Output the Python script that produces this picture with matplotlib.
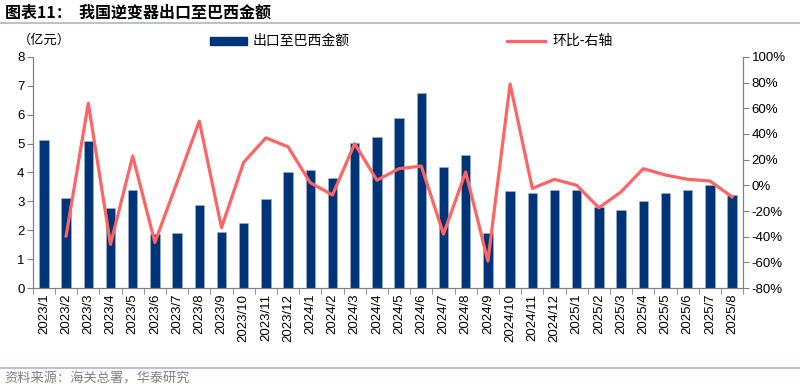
import matplotlib
matplotlib.use("Agg")
import matplotlib.pyplot as plt
import numpy as np
from matplotlib.lines import Line2D

plt.rcParams['font.family'] = ['Liberation Sans', 'Noto Sans CJK SC', 'DejaVu Sans']

months = ["2023/1", "2023/2", "2023/3", "2023/4", "2023/5", "2023/6", "2023/7", "2023/8",
          "2023/9", "2023/10", "2023/11", "2023/12", "2024/1", "2024/2", "2024/3", "2024/4",
          "2024/5", "2024/6", "2024/7", "2024/8", "2024/9", "2024/10", "2024/11", "2024/12",
          "2025/1", "2025/2", "2025/3", "2025/4", "2025/5", "2025/6", "2025/7", "2025/8"]
export_brazil = [5.12, 3.11, 5.09, 2.77, 3.39, 1.87, 1.90, 2.87, 1.94, 2.25, 3.09, 4.02,
                 4.09, 3.80, 5.03, 5.22, 5.89, 6.76, 4.19, 4.61, 1.90, 3.36, 3.28, 3.41,
                 3.39, 2.82, 2.69, 3.03, 3.28, 3.41, 3.55, 3.22]
mom_pct = [np.nan, -39.5, 64, -46, 22.8, -44.5, 2.5, 50, -33, 18, 37, 30,
           2, -7.5, 32.5, 4, 13, 15, -38, 10.4, -59, 79, -2.4, 4.7,
           0, -17.5, -5, 13, 8, 4.7, 3.4, -9]

BAR = "#003478"
LINE = "#FF6464"
SPINE = "#808080"
CJK = ['Noto Sans CJK SC', 'DejaVu Sans']

fig = plt.figure(figsize=(8, 3.92), dpi=100)
ax = fig.add_axes([0.041, 0.2653, 0.888, 0.5893])
x = np.arange(len(months))
ax.bar(x, export_brazil, width=0.42, color=BAR, edgecolor="#9fb3cf", linewidth=0.4, zorder=2)
ax.set_xlim(-0.5, len(months) - 0.5)
ax.set_ylim(0, 8)
ax.set_yticks(range(0, 9))
ax.set_xticks(x)
ax.set_xticklabels(months, rotation=90, fontsize=9.5)
ax.set_xticks(np.arange(-0.5, len(months), 1), minor=True)
ax.tick_params(axis="x", which="major", length=0, pad=4)
ax.tick_params(axis="x", which="minor", length=4, direction="out", color=SPINE)
ax.tick_params(axis="y", labelsize=9.5, length=4, color=SPINE, pad=2)

ax2 = ax.twinx()
ax2.plot(x, mom_pct, color=LINE, lw=2.3, zorder=3)
ax2.set_ylim(-80, 100)
ax2.set_yticks(range(-80, 101, 20))
ax2.set_yticklabels([f"{v}%" for v in range(-80, 101, 20)])
ax2.tick_params(axis="y", labelsize=9.5, length=4, color=SPINE, pad=2)

for a in (ax, ax2):
    a.spines["top"].set_visible(False)
    for s in ("left", "right", "bottom"):
        a.spines[s].set_color(SPINE)
        a.spines[s].set_linewidth(0.8)

# header / footer
fig.text(0.006, 0.968, "图表11：  我国逆变器出口至巴西金额", fontsize=11.5, fontweight="bold",
         family=CJK, va="center", ha="left")
fig.add_artist(Line2D([0.0, 1.0], [0.941, 0.941], color="#aab8c8", lw=1.2))
fig.add_artist(Line2D([0.0, 1.0], [0.062, 0.062], color="#aab8c8", lw=1.2))
fig.text(0.006, 0.032, "资料来源：海关总署，华泰研究", fontsize=9.5, color="#808080",
         family=CJK, va="center", ha="left")
fig.text(0.022, 0.897, "（亿元）", fontsize=9.5, family=CJK, va="center", ha="left")

# legend
fig.add_artist(plt.Rectangle((0.262, 0.884), 0.047, 0.022, color=BAR, transform=fig.transFigure))
fig.text(0.316, 0.895, "出口至巴西金额", fontsize=10, family=CJK, va="center", ha="left")
fig.add_artist(Line2D([0.634, 0.681], [0.895, 0.895], color=LINE, lw=2.3))
fig.text(0.690, 0.895, "环比-右轴", fontsize=10, family=CJK, va="center", ha="left")

fig.savefig("out.png", dpi=100)
